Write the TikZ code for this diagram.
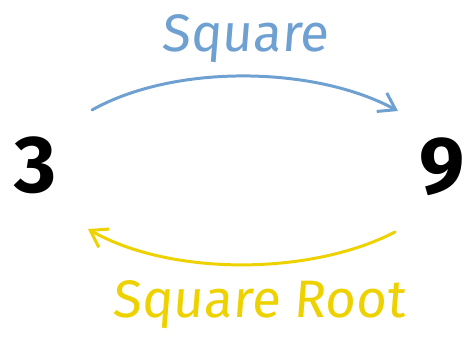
\documentclass[tikz,border=0pt]{standalone}
\usepackage{fontspec}
\setmainfont{Fira Sans}
\newfontfamily\handfont[FakeSlant=0.08]{Fira Sans}
\usetikzlibrary{arrows.meta}

\definecolor{sqblue}{RGB}{110,160,210}
\definecolor{rootyellow}{RGB}{238,210,0}

\tikzset{
  numlabel/.style={font=\fontsize{46}{46}\selectfont\bfseries, inner sep=0pt},
  oplabel/.style={font=\handfont\fontsize{30}{30}\selectfont, inner sep=0pt, anchor=base},
  maparrow/.style={line width=1.7pt, line cap=round, -{Straight Barb[length=9pt,width=12pt,line width=1.7pt]}}
}

\begin{document}
\begin{tikzpicture}
	\useasboundingbox (0,0) rectangle (9.32,6.72);
	
	% the two numbers
	\node[numlabel] (three) at (0.72,3.42) {3};
	\node[numlabel, anchor=east] (nine) at (9.31,3.38) {9};
	
	% squaring, top
	\coordinate (sqstart) at (1.84,4.52);
	\coordinate (sqend) at (7.96,4.50);
	\draw[maparrow, sqblue] (sqstart) .. controls (3.5,5.45) and (6.3,5.4) .. (sqend);
	\node[oplabel, sqblue] (square) at (4.9,5.68) {Square};
	
	% square root, bottom
	\coordinate (rtstart) at (7.90,2.08);
	\coordinate (rtend) at (1.76,2.14);
	\draw[maparrow, rootyellow] (rtstart) .. controls (6.2,1.2) and (3.4,1.2) .. (rtend);
	\node[oplabel, rootyellow] (squareroot) at (5.18,0.38) {Square Root};
\end{tikzpicture}
\end{document}
